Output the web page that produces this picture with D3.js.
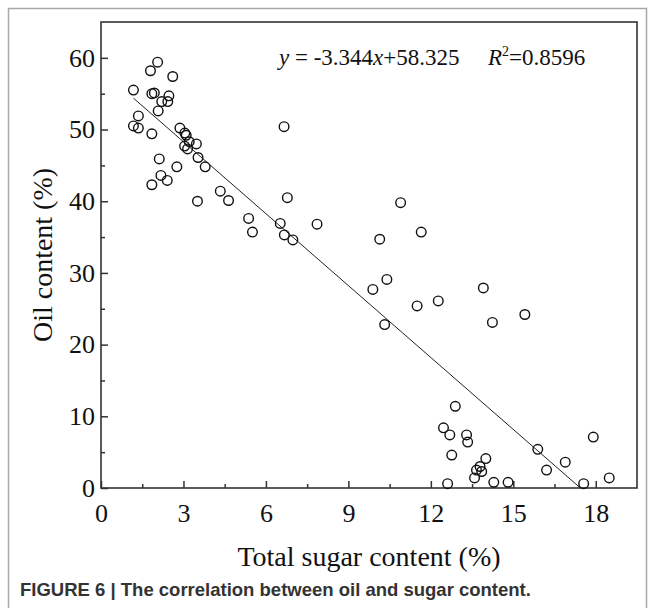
<!DOCTYPE html>
<html>
<head>
<meta charset="utf-8">
<script src="https://cdn.jsdelivr.net/npm/d3@7"></script>
<style>
  html, body { margin: 0; padding: 0; background: #fff; }
  svg { display: block; }
</style>
</head>
<body>
<div id="chart"></div>
<script>
// total sugar content (%) of each sample
const sugar = [
  1.18, 1.18, 1.36, 1.36, 1.80, 2.06, 1.85, 1.94, 2.08, 2.21,
  2.43, 2.47, 2.61, 1.85, 2.12, 2.18, 2.41, 1.85, 2.76, 2.87,
  3.05, 3.10, 3.04, 3.15, 3.21, 3.47, 3.53, 3.79, 3.51, 4.34,
  4.64, 5.37, 5.51, 6.52, 6.67, 6.98, 6.66, 6.78, 7.86, 10.90,
  10.14, 11.65, 10.40, 9.89, 10.32, 11.50, 12.27, 13.91, 14.24, 15.42,
  12.89, 12.46, 12.69, 13.30, 13.34, 12.76, 14.00, 13.79, 13.66, 13.85,
  13.59, 12.61, 14.29, 14.81, 15.89, 16.21, 16.89, 17.56, 17.91, 18.49
];
// oil content (%) of the same samples
const oil = [
  55.5, 50.5, 51.9, 50.2, 58.2, 59.4, 55.0, 55.1, 52.6, 53.9,
  53.9, 54.7, 57.4, 49.4, 45.9, 43.6, 42.9, 42.3, 44.8, 50.2,
  49.5, 49.2, 47.7, 47.3, 48.3, 48.0, 46.1, 44.8, 40.0, 41.4,
  40.1, 37.6, 35.7, 36.9, 35.3, 34.6, 50.4, 40.5, 36.8, 39.8,
  34.7, 35.7, 29.1, 27.7, 22.8, 25.4, 26.1, 27.9, 23.1, 24.2,
  11.4, 8.4, 7.4, 7.4, 6.4, 4.6, 4.1, 3.0, 2.5, 2.3,
  1.4, 0.6, 0.8, 0.8, 5.4, 2.5, 3.6, 0.6, 7.1, 1.4
];
const slope = -3.344;
const intercept = 58.325;
const r2 = "0.8596";
const xTicks = [0, 3, 6, 9, 12, 15, 18];
const yTicks = [0, 10, 20, 30, 40, 50, 60];

const width = 654, height = 608;
const margin = { top: 22, right: 17, bottom: 120, left: 101 };
const serif = "'Liberation Serif', 'Times New Roman', serif";

const svg = d3.select('#chart').append('svg')
  .attr('width', width)
  .attr('height', height);

// figure frame
svg.append('rect')
  .attr('x', 8.5).attr('y', 8.5)
  .attr('width', width - 16).attr('height', height + 20)
  .attr('fill', 'none')
  .attr('stroke', '#a8a8a8')
  .attr('stroke-width', 1.5);

const x = d3.scaleLinear().domain([0, 19.5]).range([margin.left, width - margin.right]);
const y = d3.scaleLinear().domain([0, 65]).range([height - margin.bottom, margin.top]);

const points = sugar.map((s, i) => ({ s: s, o: oil[i] }));

// inward ticks
const xAxis = d3.axisBottom(x).tickValues(d3.range(0, 19.5, 1.5))
  .tickSize(-7).tickFormat(d => xTicks.includes(d) ? d : '');
const yAxis = d3.axisLeft(y).tickValues(d3.range(0, 65, 5))
  .tickSize(-7).tickFormat(d => yTicks.includes(d) ? d : '');

const gx = svg.append('g')
  .attr('transform', `translate(0,${y(0)})`)
  .call(xAxis);
gx.selectAll('.tick line')
  .attr('y2', d => xTicks.includes(d) ? -7 : -4);
gx.selectAll('.tick text')
  .attr('y', 16).attr('dy', '0.71em');

const gy = svg.append('g')
  .attr('transform', `translate(${x(0)},0)`)
  .call(yAxis);
gy.selectAll('.tick line')
  .attr('x2', d => yTicks.includes(d) ? 7 : 4);
gy.selectAll('.tick text')
  .attr('x', -6);

[gx, gy].forEach(g => {
  g.attr('font-family', null).attr('font-size', null);
  g.select('.domain').remove();
  g.selectAll('.tick line').attr('stroke', '#333').attr('stroke-width', 1.5);
  g.selectAll('.tick text')
    .style('font-family', serif)
    .style('font-size', '26px')
    .attr('fill', '#111');
});

// plot box
svg.append('rect')
  .attr('x', x(0)).attr('y', y(65))
  .attr('width', x(19.5) - x(0)).attr('height', y(0) - y(65))
  .attr('fill', 'none')
  .attr('stroke', '#333')
  .attr('stroke-width', 1.6);

// fitted line, cut at y = 0
const x0 = d3.min(sugar);
const x1 = -intercept / slope;
svg.append('line')
  .attr('x1', x(x0)).attr('y1', y(slope * x0 + intercept))
  .attr('x2', x(x1)).attr('y2', y(0))
  .attr('stroke', '#222')
  .attr('stroke-width', 1);

svg.append('g')
  .selectAll('circle')
  .data(points)
  .join('circle')
  .attr('cx', d => x(d.s))
  .attr('cy', d => y(d.o))
  .attr('r', 4.8)
  .attr('fill', 'none')
  .attr('stroke', '#111')
  .attr('stroke-width', 1.4);

// equation
const eq = svg.append('text')
  .attr('x', 279).attr('y', 65)
  .style('font-family', serif)
  .style('font-size', '23px')
  .attr('fill', '#111');
eq.append('tspan').attr('font-style', 'italic').text('y');
eq.append('tspan').text(` = ${slope}`);
eq.append('tspan').attr('font-style', 'italic').text('x');
eq.append('tspan').text(`+${intercept}`);

const rt = svg.append('text')
  .attr('x', 488).attr('y', 65)
  .style('font-family', serif)
  .style('font-size', '23px')
  .attr('fill', '#111');
rt.append('tspan').attr('font-style', 'italic').text('R');
rt.append('tspan').style('font-size', '14px').attr('dy', -9).text('2');
rt.append('tspan').attr('dy', 9).text(`=${r2}`);

// axis titles
svg.append('text')
  .attr('x', (x(0) + x(19.5)) / 2).attr('y', 566)
  .attr('text-anchor', 'middle')
  .style('font-family', serif)
  .style('font-size', '28px')
  .attr('fill', '#111')
  .text('Total sugar content (%)');

svg.append('text')
  .attr('transform', `translate(52,${(y(0) + y(65)) / 2}) rotate(-90)`)
  .attr('text-anchor', 'middle')
  .style('font-family', serif)
  .style('font-size', '28px')
  .attr('fill', '#111')
  .text('Oil content (%)');

// caption
svg.append('text')
  .attr('x', 20).attr('y', 596)
  .style('font-family', "'Liberation Sans', Arial, sans-serif")
  .style('font-weight', 'bold')
  .style('font-size', '18.5px')
  .attr('fill', '#333')
  .text('FIGURE 6 | The correlation between oil and sugar content.');
</script>
</body>
</html>
